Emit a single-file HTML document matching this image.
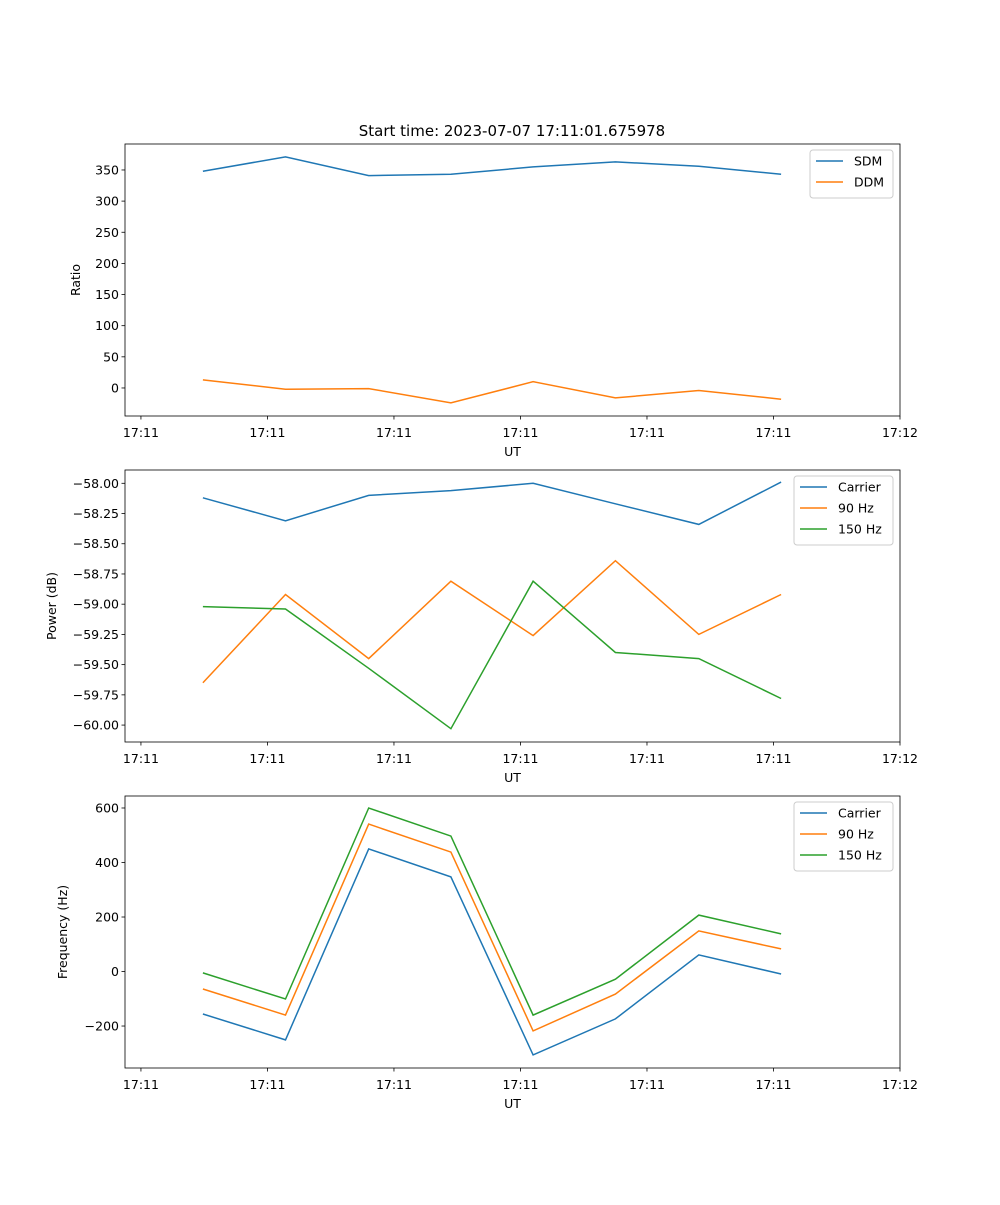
<!DOCTYPE html>
<html><head><meta charset="utf-8"><style>
body{margin:0;background:#fff}
svg text{font-family:"DejaVu Sans","Liberation Sans",sans-serif;font-size:12.5px;fill:#000}
</style></head><body>
<svg id="fig" width="1000" height="1200" xmlns="http://www.w3.org/2000/svg">
<text x="512" y="136" text-anchor="middle" style="font-size:15px">Start time: 2023-07-07 17:11:01.675978</text>
</svg>
<script>
const xSeconds = [4.9, 11.43, 18.0, 24.5, 31.0, 37.5, 44.1, 50.6];
const xTickVals = [0, 10, 20, 30, 40, 50, 60];
const xTickLabels = ["17:11","17:11","17:11","17:11","17:11","17:11","17:12"];
const sdm = [348, 371, 341, 343, 355, 363, 356, 343];
const ddm = [13, -2, -1, -24, 10, -16, -4, -18];
const powCarrier = [-58.12, -58.31, -58.10, -58.06, -58.00, -58.17, -58.34, -57.99];
const pow90 = [-59.65, -58.92, -59.45, -58.81, -59.26, -58.64, -59.25, -58.92];
const pow150 = [-59.02, -59.04, -59.53, -60.03, -58.81, -59.40, -59.45, -59.78];
const freqCarrier = [-156, -251, 450, 347, -306, -174, 61, -9];
const freq90 = [-64, -160, 541, 438, -218, -83, 149, 83];
const freq150 = [-5, -101, 600, 497, -160, -28, 207, 138];
const ratioTicks = [0,50,100,150,200,250,300,350];
const powTicks = [-60,-59.75,-59.5,-59.25,-59,-58.75,-58.5,-58.25,-58];
const freqTicks = [-200,0,200,400,600];

const NS="http://www.w3.org/2000/svg";
const svg=document.getElementById('fig');
function mk(tag,attrs,parent){const e=document.createElementNS(NS,tag);for(const k in attrs)e.setAttribute(k,attrs[k]);(parent||svg).appendChild(e);return e;}
const L=125,R=900,XMIN=-1.26,XMAX=60;
function xs(v){return L+(v-XMIN)/(XMAX-XMIN)*(R-L);}
const C=['#1f77b4','#ff7f0e','#2ca02c'];

function panel(name,top,bot,ymin,ymax,ticks,fmt,ylabel,series,labels,legX,legW){
  const g=mk('g',{});
  
  
  const ys=v=>bot-(v-ymin)/(ymax-ymin)*(bot-top);
  series.forEach((s,i)=>{
    const p=mk('polyline',{points:s.map((v,j)=>xs(xSeconds[j]).toFixed(1)+','+ys(v).toFixed(1)).join(' '),fill:'none',stroke:C[i],'stroke-width':1.5},g);
    
    
  });
  const fr=mk('rect',{x:L,y:top,width:R-L,height:bot-top,fill:'none',stroke:'#000','stroke-width':0.8},g);
  
  
  xTickVals.forEach((v,i)=>{
    const x=xs(v);
    mk('line',{x1:x,x2:x,y1:bot,y2:bot+3.5,stroke:'#000','stroke-width':0.8},g);
    const t=mk('text',{x:x,y:bot+21,'text-anchor':'middle'},g);t.textContent=xTickLabels[i];
    
    
  });
  ticks.forEach(v=>{
    const y=ys(v);
    mk('line',{x1:L-3.5,x2:L,y1:y,y2:y,stroke:'#000','stroke-width':0.8},g);
    const t=mk('text',{x:L-6,y:y+4.5,'text-anchor':'end'},g);t.textContent=fmt(v);
    
    
  });
  const xl=mk('text',{x:(L+R)/2,y:bot+40,'text-anchor':'middle'},g);xl.textContent='UT';
  
  
  const cy=(top+bot)/2;
  const yl=mk('text',{x:0,y:0,'text-anchor':'middle',transform:`translate(${legX===810?80:ylabel==='Power (dB)'?56:67},${cy}) rotate(-90)`},g);yl.textContent=ylabel;
  
  
  const lg=mk('g',{},g);
  
  
  mk('rect',{x:legX,y:top+6,width:legW,height:labels.length*21+6,rx:3,fill:'#fff',stroke:'#ccc','stroke-width':1},lg);
  labels.forEach((lab,i)=>{
    const y=top+17+i*21;
    mk('line',{x1:legX+6,x2:legX+33,y1:y,y2:y,stroke:C[i],'stroke-width':1.5},lg);
    const t=mk('text',{x:legX+44,y:y+4.5},lg);t.textContent=lab;
    
    
  });
}
panel('ratio',144,416,-45,391.7,ratioTicks,v=>String(v),'Ratio',[sdm,ddm],['SDM','DDM'],810,83);
panel('power',470,742,-60.14,-57.89,powTicks,v=>(v<0?'\u2212':'')+Math.abs(v).toFixed(2),'Power (dB)',[powCarrier,pow90,pow150],['Carrier','90 Hz','150 Hz'],794,99);
panel('frequency',796,1068,-354,644,freqTicks,v=>(v<0?'\u2212':'')+Math.abs(v),'Frequency (Hz)',[freqCarrier,freq90,freq150],['Carrier','90 Hz','150 Hz'],794,99);
</script>
</body></html>
